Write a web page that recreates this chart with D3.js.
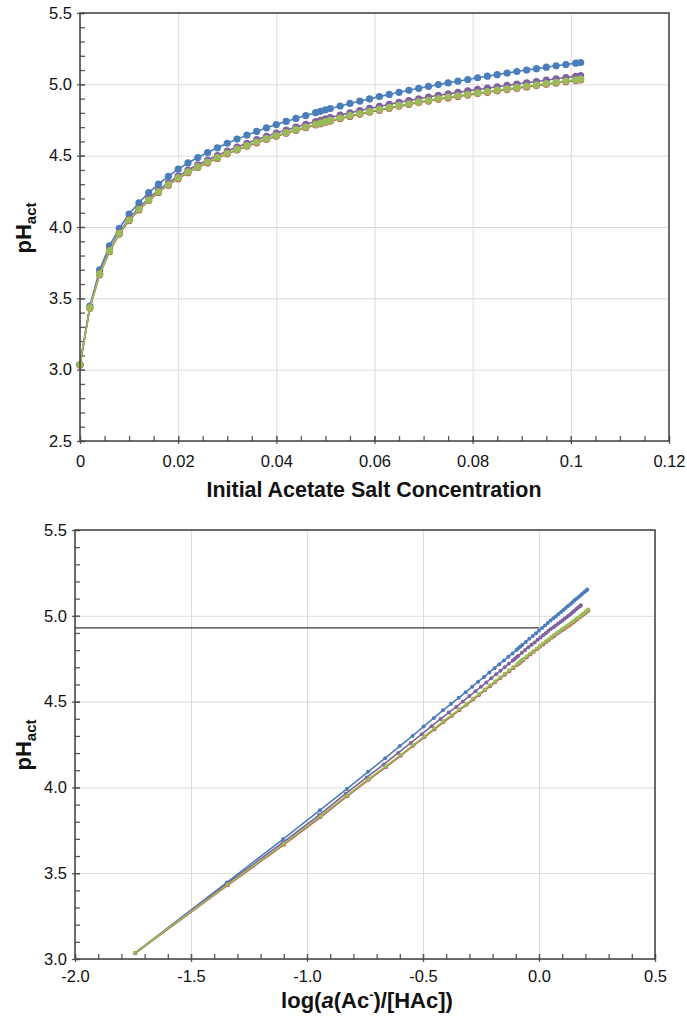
<!DOCTYPE html>
<html>
<head>
<meta charset="utf-8">
<script src="https://cdnjs.cloudflare.com/ajax/libs/d3/7.8.5/d3.min.js"></script>
<style>
    body { margin: 0; background: #fff; }
    svg { display: block; font-family: "Liberation Sans", Arial, sans-serif; }
    .grid line { stroke: #dcdcdc; stroke-width: 1; }
    .grid .domain { display: none; }
    .axis .domain { display: none; }
    .axis line { stroke: #595959; stroke-width: 1.3; }
    .axis text { font-size: 16.5px; fill: #111; }
    .frame { fill: none; stroke: #404040; stroke-width: 1.5; }
    .title { font-weight: bold; font-size: 22px; fill: #111; }
</style>
</head>
<body>
<div id="chart"></div>
<script>

// initial acetate salt concentration (shared by all series)
const conc = [0, 0.002, 0.004, 0.006, 0.008, 0.010, 0.012, 0.014, 0.016, 0.018, 0.020, 0.022, 0.024,
    0.026, 0.028, 0.030, 0.032, 0.034, 0.036, 0.038, 0.040, 0.042, 0.044, 0.046, 0.048, 0.049, 0.050,
    0.051, 0.053, 0.055, 0.057, 0.059, 0.061, 0.063, 0.065, 0.067, 0.069, 0.071, 0.073, 0.075, 0.077,
    0.079, 0.081, 0.083, 0.085, 0.087, 0.089, 0.091, 0.093, 0.095, 0.097, 0.099, 0.101, 0.102];

// pH_act per series
const phBlue = [3.035, 3.446, 3.699, 3.867, 3.991, 4.091, 4.170, 4.241, 4.300, 4.355, 4.405, 4.449, 4.487,
    4.522, 4.555, 4.587, 4.616, 4.644, 4.670, 4.695, 4.718, 4.740, 4.761, 4.781, 4.801, 4.811, 4.821,
    4.830, 4.848, 4.866, 4.882, 4.898, 4.914, 4.929, 4.944, 4.958, 4.972, 4.985, 4.998, 5.010, 5.022,
    5.034, 5.046, 5.057, 5.068, 5.079, 5.090, 5.100, 5.110, 5.120, 5.130, 5.139, 5.148, 5.153];
const phPurple = [3.035, 3.437, 3.676, 3.839, 3.963, 4.058, 4.134, 4.201, 4.259, 4.310, 4.357, 4.399, 4.436,
    4.469, 4.501, 4.532, 4.560, 4.587, 4.612, 4.636, 4.659, 4.680, 4.700, 4.720, 4.739, 4.748, 4.758,
    4.767, 4.784, 4.800, 4.816, 4.831, 4.845, 4.860, 4.874, 4.886, 4.899, 4.911, 4.923, 4.933, 4.943,
    4.954, 4.964, 4.973, 4.983, 4.992, 5.002, 5.011, 5.020, 5.029, 5.039, 5.048, 5.056, 5.061];
const phRed = [3.033, 3.430, 3.666, 3.827, 3.950, 4.044, 4.119, 4.185, 4.242, 4.293, 4.339, 4.381, 4.417,
    4.450, 4.481, 4.512, 4.539, 4.566, 4.590, 4.614, 4.636, 4.657, 4.677, 4.696, 4.715, 4.724, 4.734,
    4.742, 4.759, 4.775, 4.790, 4.805, 4.819, 4.833, 4.847, 4.859, 4.872, 4.883, 4.895, 4.905, 4.915,
    4.925, 4.935, 4.944, 4.954, 4.963, 4.973, 4.982, 4.991, 5.000, 5.009, 5.018, 5.026, 5.031];
const phGreen = [3.035, 3.434, 3.671, 3.832, 3.955, 4.049, 4.124, 4.190, 4.247, 4.298, 4.344, 4.386, 4.422,
    4.455, 4.486, 4.517, 4.544, 4.571, 4.595, 4.619, 4.641, 4.662, 4.682, 4.701, 4.720, 4.729, 4.739,
    4.747, 4.764, 4.780, 4.795, 4.810, 4.824, 4.838, 4.852, 4.864, 4.877, 4.888, 4.900, 4.910, 4.920,
    4.930, 4.940, 4.949, 4.959, 4.968, 4.978, 4.987, 4.996, 5.005, 5.014, 5.023, 5.031, 5.036];

// log(a(Ac-)/[HAc]) per series
const logBlue = [-1.740, -1.345, -1.103, -0.944, -0.828, -0.737, -0.663, -0.600, -0.545, -0.497, -0.453, -0.414, -0.379,
    -0.346, -0.316, -0.288, -0.262, -0.237, -0.214, -0.192, -0.171, -0.151, -0.132, -0.114, -0.097, -0.089, -0.080,
    -0.072, -0.057, -0.042, -0.027, -0.013, 0.000, 0.013, 0.026, 0.038, 0.050, 0.062, 0.073, 0.084, 0.095,
    0.105, 0.115, 0.125, 0.135, 0.144, 0.153, 0.162, 0.171, 0.180, 0.188, 0.196, 0.204, 0.208];
const logPurple = [-1.741, -1.347, -1.106, -0.948, -0.833, -0.743, -0.669, -0.607, -0.553, -0.505, -0.463, -0.424, -0.389,
    -0.357, -0.328, -0.300, -0.274, -0.250, -0.227, -0.206, -0.185, -0.166, -0.148, -0.130, -0.113, -0.105, -0.097,
    -0.089, -0.074, -0.060, -0.046, -0.032, -0.019, -0.006, 0.006, 0.018, 0.029, 0.040, 0.051, 0.062, 0.072,
    0.082, 0.092, 0.101, 0.110, 0.119, 0.128, 0.137, 0.145, 0.153, 0.161, 0.169, 0.177, 0.181];
const logRed = [-1.741, -1.341, -1.099, -0.941, -0.825, -0.734, -0.659, -0.596, -0.542, -0.493, -0.450, -0.411, -0.375,
    -0.343, -0.312, -0.284, -0.258, -0.233, -0.210, -0.188, -0.167, -0.147, -0.128, -0.110, -0.092, -0.084, -0.076,
    -0.068, -0.052, -0.037, -0.023, -0.009, 0.005, 0.018, 0.031, 0.043, 0.055, 0.066, 0.078, 0.089, 0.099,
    0.110, 0.120, 0.130, 0.140, 0.149, 0.158, 0.167, 0.176, 0.185, 0.193, 0.201, 0.209, 0.213];
const logGreen = [-1.742, -1.342, -1.100, -0.942, -0.826, -0.735, -0.660, -0.597, -0.543, -0.494, -0.451, -0.412, -0.376,
    -0.344, -0.313, -0.285, -0.259, -0.234, -0.211, -0.189, -0.168, -0.148, -0.129, -0.111, -0.093, -0.085, -0.077,
    -0.069, -0.053, -0.038, -0.024, -0.010, 0.004, 0.017, 0.030, 0.042, 0.054, 0.065, 0.077, 0.088, 0.098,
    0.109, 0.119, 0.129, 0.139, 0.148, 0.157, 0.166, 0.175, 0.184, 0.192, 0.200, 0.208, 0.212];

// horizontal reference line in the lower chart
const refLineX = [-2.0, 0.0];
const refLineY = [4.93, 4.93];

// tick values
const concTicks = [0, 0.02, 0.04, 0.06, 0.08, 0.1, 0.12];
const logTicks = [-2.0, -1.5, -1.0, -0.5, 0.0, 0.5];
const phTicksTop = [2.5, 3.0, 3.5, 4.0, 4.5, 5.0, 5.5];
const phTicksBottom = [3.0, 3.5, 4.0, 4.5, 5.0, 5.5];

const colors = { blue: '#4a7ebb', purple: '#7e62a1', red: '#c0504d', green: '#9bbb59' };

const W = 687, H = 1021;
const svg = d3.select('#chart').append('svg').attr('width', W).attr('height', H);

function XYChart(opts) {

    let x = d3.scaleLinear().domain(opts.xDomain).range([opts.left, opts.right]),
        y = d3.scaleLinear().domain(opts.yDomain).range([opts.bottom, opts.top]);

    let g = svg.append('g');
    let ph = opts.bottom - opts.top,
        pw = opts.right - opts.left;

    // gridlines
    g.append('g').classed('grid', true)
        .attr('transform', 'translate(0,' + opts.bottom + ')')
        .call(d3.axisBottom(x).tickValues(opts.xTicks).tickSize(-ph).tickFormat(''));
    g.append('g').classed('grid', true)
        .attr('transform', 'translate(' + opts.left + ',0)')
        .call(d3.axisLeft(y).tickValues(opts.yTicks).tickSize(-pw).tickFormat(''));

    // minor ticks (inside)
    g.append('g').classed('axis', true)
        .attr('transform', 'translate(0,' + opts.bottom + ')')
        .call(d3.axisBottom(x).tickValues(opts.xMinor).tickSize(-5).tickFormat(''));
    g.append('g').classed('axis', true)
        .attr('transform', 'translate(' + opts.left + ',0)')
        .call(d3.axisLeft(y).tickValues(opts.yMinor).tickSize(-5).tickFormat(''));

    // major ticks + labels
    let xAxis = g.append('g').classed('axis', true)
        .attr('transform', 'translate(0,' + opts.bottom + ')')
        .call(d3.axisBottom(x).tickValues(opts.xTicks).tickSizeInner(-5).tickSizeOuter(0)
            .tickPadding(opts.xPad).tickFormat(opts.xFormat));
    xAxis.selectAll('.tick line').attr('y1', 3).attr('y2', -5);

    let yAxis = g.append('g').classed('axis', true)
        .attr('transform', 'translate(' + opts.left + ',0)')
        .call(d3.axisLeft(y).tickValues(opts.yTicks).tickSizeInner(-5).tickSizeOuter(0)
            .tickPadding(8).tickFormat(d3.format('.1f')));
    yAxis.selectAll('.tick line').attr('x1', -3).attr('x2', 5);

    // reference line
    if (opts.ref) {
        g.append('path')
            .datum(d3.zip(opts.ref[0], opts.ref[1]))
            .attr('fill', 'none')
            .attr('stroke', '#3a3a3a')
            .attr('stroke-width', 1.3)
            .attr('d', d3.line().x(d => x(d[0])).y(d => y(d[1])));
    }

    // series
    let line = d3.line().x(d => x(d[0])).y(d => y(d[1]));
    opts.series.forEach(function(s) {
        let pts = d3.zip(s.x, s.y);
        let sg = g.append('g');
        sg.append('path')
            .datum(pts)
            .attr('fill', 'none')
            .attr('stroke', s.color)
            .attr('stroke-width', opts.lineWidth)
            .attr('d', line);
        sg.selectAll('circle')
            .data(pts)
            .join('circle')
            .attr('cx', d => x(d[0]))
            .attr('cy', d => y(d[1]))
            .attr('r', opts.r)
            .attr('fill', s.color);
    });

    // frame
    g.append('rect').classed('frame', true)
        .attr('x', opts.left).attr('y', opts.top)
        .attr('width', pw).attr('height', ph);

    // y title: pH_act
    let yt = g.append('text').classed('title', true)
        .attr('text-anchor', 'middle')
        .attr('transform', 'translate(' + opts.yTitleX + ',' + opts.yTitleY + ') rotate(-90)');
    yt.append('tspan').text('pH');
    yt.append('tspan').attr('dy', 5).style('font-size', '15px').text('act');

    return g;
}

// upper chart
let topChart = XYChart({
    xDomain: [0, 0.12], yDomain: [2.5, 5.5],
    left: 80, right: 669, top: 13, bottom: 441,
    xTicks: concTicks, yTicks: phTicksTop,
    xMinor: d3.range(0, 0.1201, 0.005), yMinor: d3.range(2.5, 5.501, 0.1),
    xFormat: d => String(+d.toFixed(2)), xPad: 14,
    r: 3.6, lineWidth: 1.6,
    yTitleX: 31, yTitleY: 228,
    series: [
        { x: conc, y: phBlue, color: colors.blue },
        { x: conc, y: phPurple, color: colors.purple },
        { x: conc, y: phRed, color: colors.red },
        { x: conc, y: phGreen, color: colors.green }
    ]
});
topChart.append('text').classed('title', true)
    .attr('x', 374).attr('y', 497)
    .attr('text-anchor', 'middle')
    .attr('textLength', 335).attr('lengthAdjust', 'spacingAndGlyphs')
    .text('Initial Acetate Salt Concentration');

// lower chart
let bottomChart = XYChart({
    xDomain: [-2, 0.5], yDomain: [3.0, 5.5],
    left: 75, right: 655, top: 530, bottom: 959,
    xTicks: logTicks, yTicks: phTicksBottom,
    xMinor: d3.range(-2, 0.501, 0.1), yMinor: d3.range(3.0, 5.501, 0.1),
    xFormat: d => d.toFixed(1), xPad: 11,
    r: 2, lineWidth: 1.6,
    yTitleX: 31, yTitleY: 745,
    ref: [refLineX, refLineY],
    series: [
        { x: logBlue, y: phBlue, color: colors.blue },
        { x: logPurple, y: phPurple, color: colors.purple },
        { x: logRed, y: phRed, color: colors.red },
        { x: logGreen, y: phGreen, color: colors.green }
    ]
});
let xt = bottomChart.append('text').classed('title', true)
    .attr('x', 367).attr('y', 1008)
    .attr('text-anchor', 'middle');
xt.append('tspan').text('log(');
xt.append('tspan').style('font-style', 'italic').text('a');
xt.append('tspan').text('(Ac');
xt.append('tspan').attr('dy', -9).style('font-size', '13px').text('-');
xt.append('tspan').attr('dy', 9).text(')/[HAc])');

</script>
</body>
</html>
